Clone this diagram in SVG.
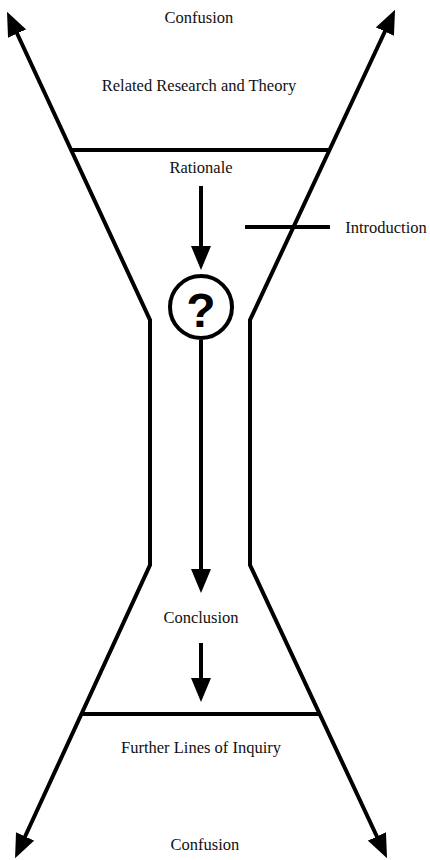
<svg xmlns="http://www.w3.org/2000/svg" width="430" height="860" viewBox="0 0 430 860">
<style>
.ln{fill:none;stroke:#000;stroke-width:4;stroke-linejoin:miter}
.t{font-family:"Liberation Serif",serif;font-size:16.5px;fill:#111;text-anchor:middle}
</style>
<defs>
<marker id="ah" viewBox="0 0 24 20" refX="5" refY="10" markerWidth="24" markerHeight="20" markerUnits="userSpaceOnUse" orient="auto-start-reverse">
<path d="M0,0 L24,10 L0,20 z" fill="#000"/>
</marker>
</defs>
<rect width="430" height="860" fill="#fff"/>
<g id="connectors">
<path class="ln" d="M15,29 L150,320 L150,565 L23,841" marker-start="url(#ah)" marker-end="url(#ah)"/>
<path class="ln" d="M387,27 L250,320 L250,565 L379,841" marker-start="url(#ah)" marker-end="url(#ah)"/>
<line class="ln" x1="71" y1="150" x2="330" y2="150"/>
<line class="ln" x1="81" y1="714" x2="320" y2="714"/>
<line class="ln" x1="245" y1="227" x2="330" y2="227"/>
<line class="ln" x1="201" y1="186" x2="201" y2="251" marker-end="url(#ah)"/>
<line class="ln" x1="201" y1="340" x2="201" y2="574" marker-end="url(#ah)"/>
<line class="ln" x1="201" y1="643" x2="201" y2="683" marker-end="url(#ah)"/>
</g>
<g id="confusion-top"><text class="t" x="199" y="23">Confusion</text></g>
<g id="related"><text class="t" x="199" y="91">Related Research and Theory</text></g>
<g id="rationale"><text class="t" x="201" y="173">Rationale</text></g>
<g id="introduction"><text class="t" x="386" y="233">Introduction</text></g>
<g id="question">
<circle cx="201" cy="307" r="31" fill="none" stroke="#000" stroke-width="4"/>
<text x="201" y="327" font-family="Liberation Sans,Arial,sans-serif" font-weight="bold" font-size="48" text-anchor="middle" fill="#000">?</text>
</g>
<g id="conclusion"><text class="t" x="201" y="623">Conclusion</text></g>
<g id="further"><text class="t" x="201" y="753">Further Lines of Inquiry</text></g>
<g id="confusion-bottom"><text class="t" x="205" y="850">Confusion</text></g>
</svg>
